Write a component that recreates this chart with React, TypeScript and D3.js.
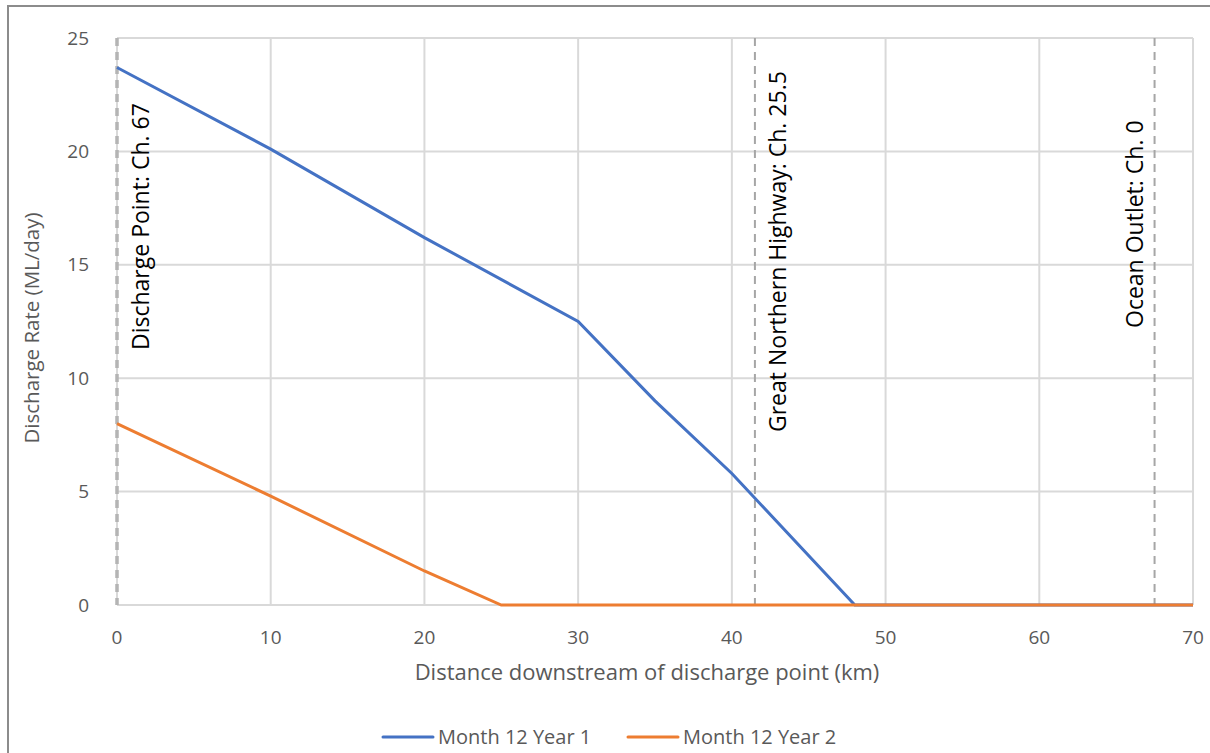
import React from 'react';
import * as d3 from 'd3';

const W = 1210;
const H = 753;

// distance downstream (km) and discharge rate (ML/day)
const distYear1 = [0, 10, 20, 30, 35, 40, 48, 70];
const rateYear1 = [23.7, 20.1, 16.2, 12.5, 9.0, 5.8, 0, 0];
const distYear2 = [0, 10, 20, 25, 70];
const rateYear2 = [8.0, 4.8, 1.5, 0, 0];

const seriesNames = ['Month 12 Year 1', 'Month 12 Year 2'];
const seriesColors = ['#4472c4', '#ed7d31'];

const xTicks = [0, 10, 20, 30, 40, 50, 60, 70];
const yTicks = [0, 5, 10, 15, 20, 25];

// chainage markers
const markerKm = [0, 41.5, 67.5];
const markerLabels = ['Discharge Point: Ch. 67', 'Great Northern Highway: Ch. 25.5', 'Ocean Outlet: Ch. 0'];

const FONT = '"Open Sans", "Noto Sans", sans-serif';

const App: React.FC = () => {
  const margin = { left: 117, right: 17, top: 38, bottom: 148 };
  const x = d3.scaleLinear().domain([0, 70]).range([margin.left, W - margin.right]);
  const y = d3.scaleLinear().domain([0, 25]).range([H - margin.bottom, margin.top]);

  const line = d3.line<[number, number]>().x(d => x(d[0])).y(d => y(d[1]));
  const s1 = distYear1.map((d, i) => [d, rateYear1[i]] as [number, number]);
  const s2 = distYear2.map((d, i) => [d, rateYear2[i]] as [number, number]);

  // label placement relative to marker line (offset px, bottom y of text)
  const labelOffset = [24, 23, -20];
  const labelBottom = [350, 432, 328];

  return (
    <div style={{ position: 'absolute', left: 0, top: 0 }}>
      <svg width={W} height={H} style={{ display: 'block', background: '#fff' }}>
        <rect x={8} y={6} width={W} height={H} fill="#fff" stroke="#8c8c8c" strokeWidth={2} />

        {/* gridlines */}
        {yTicks.map(t => (
          <line key={'gy' + t} x1={x(0)} x2={x(70)} y1={y(t)} y2={y(t)} stroke="#d9d9d9" strokeWidth={2} />
        ))}
        {xTicks.map(t => (
          <line key={'gx' + t} x1={x(t)} x2={x(t)} y1={y(0)} y2={y(25)} stroke="#d9d9d9" strokeWidth={2} />
        ))}

        {/* tick labels */}
        {yTicks.map(t => (
          <text key={'ty' + t} x={x(0) - 28} y={y(t)} dy="0.35em" textAnchor="end" fontFamily={FONT} fontSize={19} fill="#595959">{t}</text>
        ))}
        {xTicks.map(t => (
          <text key={'tx' + t} x={x(t)} y={y(0) + 39} textAnchor="middle" fontFamily={FONT} fontSize={19} fill="#595959">{t}</text>
        ))}

        {/* marker lines */}
        {markerKm.map((m, i) => (
          <line key={'m' + i} x1={x(m)} x2={x(m)} y1={y(25)} y2={y(0)}
            stroke={i === 0 ? '#b4b4b4' : '#a6a6a6'} strokeWidth={i === 0 ? 3.5 : 2} strokeDasharray="8,6" />
        ))}

        {/* series */}
        <path d={line(s1) || ''} fill="none" stroke={seriesColors[0]} strokeWidth={3} />
        <path d={line(s2) || ''} fill="none" stroke={seriesColors[1]} strokeWidth={3} />

        {/* marker labels */}
        {markerKm.map((m, i) => (
          <text key={'ml' + i} transform={`translate(${x(m) + labelOffset[i]},${labelBottom[i]}) rotate(-90)`}
            dy="0.35em" fontFamily={FONT} fontSize={23} fill="#000">{markerLabels[i]}</text>
        ))}

        {/* axis titles */}
        <text x={647} y={680} textAnchor="middle" fontFamily={FONT} fontSize={22} fill="#595959">
          Distance downstream of discharge point (km)
        </text>
        <text transform={`translate(32,328) rotate(-90)`} textAnchor="middle" dy="0.35em" fontFamily={FONT} fontSize={20.5} fill="#595959">
          Discharge Rate (ML/day)
        </text>

        {/* legend */}
        {seriesNames.map((n, i) => (
          <g key={'lg' + i} transform={`translate(${383 + i * 245},737)`}>
            <line x1={0} x2={50} y1={0} y2={0} stroke={seriesColors[i]} strokeWidth={3} strokeLinecap="round" />
            <text x={55} y={0} dy="0.35em" fontFamily={FONT} fontSize={20} fill="#595959">{n}</text>
          </g>
        ))}
      </svg>
    </div>
  );
};

export default App;
